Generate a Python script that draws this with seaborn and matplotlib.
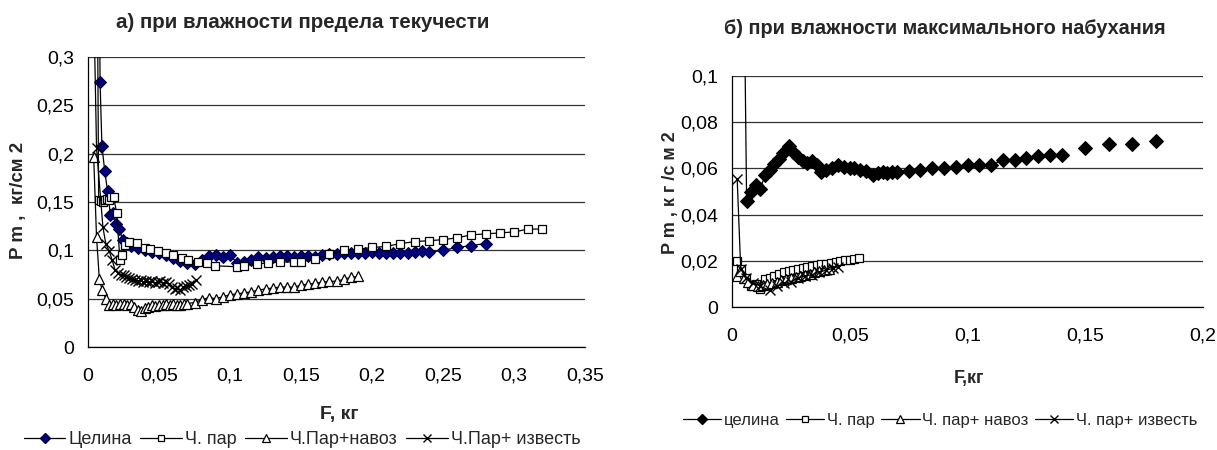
import numpy as np
import matplotlib
matplotlib.use("Agg")
import matplotlib.pyplot as plt
from matplotlib.lines import Line2D
from matplotlib.ticker import FuncFormatter, MultipleLocator
import seaborn as sns

# ---------------- panel (а): liquid-limit moisture ----------------
a_celina_x = [0.0078, 0.0085, 0.0098, 0.0118, 0.0138, 0.0158, 0.0178, 0.0198, 0.0218, 0.0245,
              0.0275, 0.030, 0.035, 0.040, 0.045, 0.050, 0.055, 0.060, 0.065, 0.070,
              0.075, 0.080, 0.085, 0.090, 0.095, 0.100, 0.105, 0.110, 0.115, 0.120,
              0.125, 0.130, 0.135, 0.140, 0.145, 0.150, 0.155, 0.160, 0.165, 0.170,
              0.175, 0.180, 0.185, 0.190, 0.195, 0.200, 0.205, 0.210, 0.215, 0.220,
              0.225, 0.230, 0.235, 0.240, 0.250, 0.260, 0.270, 0.280]
a_celina_y = [0.420, 0.274, 0.208, 0.182, 0.161, 0.137, 0.139, 0.127, 0.122, 0.111,
              0.108, 0.104, 0.102, 0.100, 0.098, 0.097, 0.095, 0.092, 0.089, 0.087,
              0.086, 0.090, 0.094, 0.095, 0.093, 0.095, 0.087, 0.088, 0.090, 0.093,
              0.092, 0.093, 0.094, 0.094, 0.093, 0.094, 0.094, 0.093, 0.095, 0.096,
              0.096, 0.097, 0.097, 0.097, 0.097, 0.098, 0.097, 0.097, 0.097, 0.097,
              0.097, 0.098, 0.099, 0.098, 0.100, 0.103, 0.105, 0.107]

a_par_x = [0.0065, 0.0075, 0.009, 0.0105, 0.012, 0.0135, 0.015, 0.0165, 0.018, 0.0202,
           0.0225, 0.024, 0.026, 0.029, 0.0345, 0.040, 0.044, 0.0495, 0.055, 0.060,
           0.066, 0.0705, 0.0775, 0.084, 0.0895, 0.105, 0.110, 0.119, 0.127, 0.135,
           0.145, 0.150, 0.160, 0.170, 0.180, 0.190, 0.200, 0.210, 0.220, 0.230,
           0.240, 0.250, 0.260, 0.270, 0.280, 0.290, 0.300, 0.310, 0.320]
a_par_y = [0.400, 0.152, 0.151, 0.150, 0.152, 0.153, 0.152, 0.155, 0.155, 0.139,
           0.090, 0.095, 0.106, 0.109, 0.108, 0.102, 0.101, 0.099, 0.097, 0.095,
           0.092, 0.090, 0.088, 0.087, 0.084, 0.083, 0.084, 0.086, 0.087, 0.088,
           0.088, 0.088, 0.091, 0.096, 0.100, 0.101, 0.103, 0.104, 0.107, 0.109,
           0.110, 0.111, 0.113, 0.116, 0.117, 0.118, 0.119, 0.122, 0.122]

a_navoz_x = [0.004, 0.006, 0.008, 0.010, 0.0125, 0.015, 0.0175, 0.020, 0.0225, 0.025,
             0.0275, 0.030, 0.0325, 0.035, 0.0375, 0.040, 0.0425, 0.045, 0.0475, 0.050,
             0.0525, 0.055, 0.0575, 0.060, 0.0625, 0.065, 0.0675, 0.070, 0.075, 0.080,
             0.085, 0.090, 0.095, 0.100, 0.105, 0.110, 0.115, 0.120, 0.125, 0.130,
             0.135, 0.140, 0.145, 0.150, 0.155, 0.160, 0.165, 0.170, 0.175, 0.180,
             0.185, 0.190]
a_navoz_y = [0.197, 0.114, 0.070, 0.059, 0.050, 0.043, 0.045, 0.043, 0.044, 0.044,
             0.043, 0.044, 0.041, 0.038, 0.037, 0.040, 0.041, 0.043, 0.042, 0.043,
             0.043, 0.044, 0.043, 0.044, 0.043, 0.043, 0.044, 0.045, 0.046, 0.049,
             0.051, 0.050, 0.052, 0.054, 0.055, 0.056, 0.057, 0.059, 0.060, 0.061,
             0.062, 0.062, 0.062, 0.064, 0.065, 0.066, 0.067, 0.068, 0.068, 0.070,
             0.072, 0.073]

a_izv_x = [0.0035, 0.006, 0.0105, 0.0125, 0.015, 0.017, 0.019, 0.021, 0.023, 0.025,
           0.027, 0.029, 0.031, 0.033, 0.035, 0.037, 0.039, 0.041, 0.043, 0.045,
           0.047, 0.049, 0.051, 0.053, 0.055, 0.057, 0.059, 0.061, 0.063, 0.065,
           0.067, 0.069, 0.071, 0.073, 0.076]
a_izv_y = [0.400, 0.206, 0.124, 0.107, 0.099, 0.090, 0.080, 0.077, 0.075, 0.074,
           0.072, 0.071, 0.070, 0.069, 0.068, 0.069, 0.067, 0.068, 0.067, 0.068,
           0.066, 0.067, 0.068, 0.066, 0.067, 0.065, 0.062, 0.060, 0.061, 0.059,
           0.062, 0.063, 0.064, 0.065, 0.069]

# ---------------- panel (б): maximum-swelling moisture ----------------
b_celina_x = [0.0045, 0.0062, 0.008, 0.010, 0.012, 0.014, 0.016, 0.018, 0.020, 0.0215,
              0.024, 0.026, 0.028, 0.030, 0.032, 0.034, 0.036, 0.038, 0.040, 0.0425,
              0.045, 0.0475, 0.050, 0.052, 0.0545, 0.057, 0.060, 0.062, 0.064, 0.066,
              0.068, 0.070, 0.075, 0.080, 0.085, 0.090, 0.095, 0.100, 0.105, 0.110,
              0.115, 0.120, 0.125, 0.130, 0.135, 0.140]
b_celina_y = [0.200, 0.046, 0.050, 0.053, 0.051, 0.057, 0.0595, 0.062, 0.064, 0.0665,
              0.0695, 0.067, 0.065, 0.063, 0.0625, 0.063, 0.0615, 0.0585, 0.0595, 0.060,
              0.0615, 0.0605, 0.060, 0.060, 0.0595, 0.059, 0.057, 0.058, 0.0585, 0.058,
              0.0585, 0.0585, 0.059, 0.0595, 0.060, 0.060, 0.0605, 0.0615, 0.0615, 0.0615,
              0.0635, 0.0637, 0.0645, 0.0655, 0.066, 0.066]
# last readings, recorded without a connecting line
b_celina_tail_x = [0.150, 0.160, 0.170, 0.180]
b_celina_tail_y = [0.069, 0.0705, 0.0705, 0.072]

b_par_x = [0.002, 0.004, 0.006, 0.008, 0.010, 0.012, 0.014, 0.016, 0.018, 0.020,
           0.022, 0.024, 0.026, 0.028, 0.030, 0.032, 0.034, 0.036, 0.038, 0.040,
           0.042, 0.044, 0.046, 0.048, 0.050, 0.052, 0.054]
b_par_y = [0.0198, 0.0165, 0.0125, 0.0090, 0.0098, 0.0078, 0.0120, 0.0126, 0.0136, 0.0145,
           0.0150, 0.0155, 0.0160, 0.0165, 0.0170, 0.0173, 0.0176, 0.0180, 0.0184, 0.0188,
           0.0190, 0.0196, 0.0200, 0.0205, 0.0205, 0.0207, 0.0212]

b_navoz_x = [0.002, 0.0035, 0.005, 0.007, 0.009, 0.011, 0.013, 0.015, 0.017, 0.019,
             0.021, 0.023, 0.025, 0.027, 0.029, 0.031, 0.033, 0.035, 0.037, 0.039, 0.041]
b_navoz_y = [0.0135, 0.0158, 0.0125, 0.0110, 0.0095, 0.0090, 0.0095, 0.0100, 0.0105, 0.0110,
             0.0115, 0.0120, 0.0125, 0.0130, 0.0135, 0.0140, 0.0145, 0.0150, 0.0155, 0.0160, 0.0165]

b_izv_x = [0.0022, 0.0037, 0.006, 0.009, 0.012, 0.016, 0.019, 0.022, 0.025, 0.028,
           0.031, 0.034, 0.037, 0.040, 0.043, 0.045]
b_izv_y = [0.0555, 0.0165, 0.0125, 0.0105, 0.0090, 0.0072, 0.0090, 0.0102, 0.0110, 0.0125,
           0.0135, 0.0140, 0.0150, 0.0160, 0.0167, 0.0175]

a_labels = ["Целина", "Ч. пар", "Ч.Пар+навоз", "Ч.Пар+ известь"]
b_labels = ["целина", "Ч. пар", "Ч. пар+ навоз", "Ч. пар+ известь"]

# ---------------- styling ----------------
sns.set_style("white")
plt.rcParams["font.family"] = ["Liberation Sans", "DejaVu Sans"]

W, H = 1217, 450
fig = plt.figure(figsize=(W / 100, H / 100), dpi=100)


def frac_box(left, right, top, bottom):
    return [left / W, 1 - bottom / H, (right - left) / W, (bottom - top) / H]


ax_a = fig.add_axes(frac_box(88, 585, 57, 347))
ax_b = fig.add_axes(frac_box(732, 1203, 76, 307))

comma = FuncFormatter(lambda v, pos: f"{v:g}".replace(".", ","))

styles = [
    dict(marker="D", markersize=6, markerfacecolor="#000080", markeredgecolor="#000040"),
    dict(marker="s", markersize=6, markerfacecolor="white", markeredgecolor="black", markeredgewidth=0.9),
    dict(marker="^", markersize=6.5, markerfacecolor="white", markeredgecolor="black", markeredgewidth=0.9),
    dict(marker="x", markersize=7, markeredgecolor="black", markeredgewidth=1.0),
]
b_styles = [dict(styles[0], markerfacecolor="black", markeredgecolor="black", markersize=7)] + styles[1:]


def draw(ax, xs, ys, st, line=True):
    sns.lineplot(x=xs, y=ys, ax=ax, estimator=None, sort=False, color="black",
                 linewidth=0.9 if line else 0, linestyle="-" if line else "None", **st)


for xs, ys, st in zip([a_celina_x, a_par_x, a_navoz_x, a_izv_x],
                      [a_celina_y, a_par_y, a_navoz_y, a_izv_y], styles):
    draw(ax_a, xs, ys, st)

for xs, ys, st in zip([b_celina_x, b_par_x, b_navoz_x, b_izv_x],
                      [b_celina_y, b_par_y, b_navoz_y, b_izv_y], b_styles):
    draw(ax_b, xs, ys, st)
draw(ax_b, b_celina_tail_x, b_celina_tail_y, b_styles[0], line=False)


def frame(ax, xmax, xstep, ymax, ystep):
    ax.set_xlim(0, xmax)
    ax.set_ylim(0, ymax)
    ax.xaxis.set_major_locator(MultipleLocator(xstep))
    ax.yaxis.set_major_locator(MultipleLocator(ystep))
    ax.xaxis.set_major_formatter(comma)
    ax.yaxis.set_major_formatter(comma)
    for s in ("top", "right"):
        ax.spines[s].set_visible(False)
    for s in ("left", "bottom"):
        ax.spines[s].set_color("black")
        ax.spines[s].set_linewidth(0.9)
    ax.tick_params(axis="both", direction="out", length=5, width=0.9, color="black",
                   labelsize=14, labelcolor="black", pad=5)
    ax.tick_params(axis="x", pad=10)
    ax.yaxis.grid(True, color="#333333", linewidth=0.9)
    ax.xaxis.grid(False)
    ax.set_xlabel("")
    ax.set_ylabel("")
    fig.canvas.draw()
    ax.get_ygridlines()[0].set_visible(False)


frame(ax_a, 0.35, 0.05, 0.3, 0.05)
ax_a.get_ygridlines()[-1].set_visible(False)
frame(ax_b, 0.2, 0.05, 0.1, 0.02)
ax_b.get_ygridlines()[-1].set_color("#e6e6e6")

# titles and axis captions
fig.text(303 / W, 1 - 23 / H, "а) при влажности предела текучести", ha="center", va="center",
         fontsize=14.8, fontweight="bold")
fig.text(945 / W, 1 - 29 / H, "б) при влажности максимального набухания", ha="center", va="center",
         fontsize=14.3, fontweight="bold")
fig.text(339 / W, 1 - 414 / H, "F, кг", ha="center", va="center", fontsize=14, fontweight="bold")
fig.text(969 / W, 1 - 379 / H, "F,кг", ha="center", va="center", fontsize=13, fontweight="bold")
fig.text(19 / W, 1 - 200 / H, "P m ,  кг/см 2", ha="center", va="center", rotation=90,
         fontsize=13.5, fontweight="bold")
fig.text(670 / W, 1 - 193 / H, "P m , к г /с м 2", ha="center", va="center", rotation=90,
         fontsize=13, fontweight="bold")


def handles(sts):
    return [Line2D([], [], color="black", linewidth=0.9, **dict(st, markersize=st["markersize"] * 0.8))
            for st in sts]


fig.legend(handles(styles), a_labels, loc="center", bbox_to_anchor=(302 / W, 1 - 440 / H),
           ncol=4, frameon=False, fontsize=13, handlelength=2.3, handletextpad=0.15,
           columnspacing=0.5, borderaxespad=0)
fig.legend(handles(b_styles), b_labels, loc="center", bbox_to_anchor=(940 / W, 1 - 420 / H),
           ncol=4, frameon=False, fontsize=12, handlelength=2.3, handletextpad=0.15,
           columnspacing=0.4, borderaxespad=0)

fig.savefig("out.png", dpi=100)
